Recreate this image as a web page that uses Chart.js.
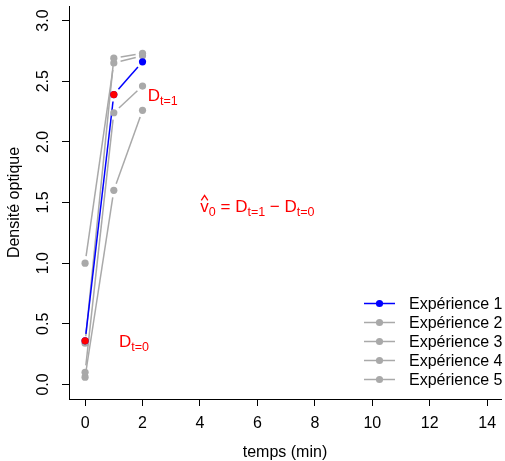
<!DOCTYPE html>
<html>
<head>
<meta charset="utf-8">
<script src="https://cdn.jsdelivr.net/npm/chart.js@4.4.1/dist/chart.umd.min.js"></script>
<style>
  html, body { margin: 0; padding: 0; background: #fff; }
</style>
</head>
<body>
<canvas id="chart" width="505" height="461"></canvas>
<script>
// densité optique mesurée à t = 0, 1, 2 min
const temps = [0, 1, 2];
const exp1 = [0.36, 2.39, 2.66];
const exp2 = [0.34, 2.69, 2.73];
const exp3 = [1.00, 2.65, 2.71];
const exp4 = [0.10, 2.24, 2.46];
const exp5 = [0.06, 1.60, 2.26];
const seriesNames = ["Expérience 1", "Expérience 2", "Expérience 3", "Expérience 4", "Expérience 5"];

// points de l'expérience 1 repérés en rouge
const markedTimes = [0, 1];
const markedSubs = ["t=0", "t=1"];

const xTicks = [0, 2, 4, 6, 8, 10, 12, 14];
const yTicks = [0, 0.5, 1, 1.5, 2, 2.5, 3];

const FONT = "'Liberation Sans', Arial, Helvetica, sans-serif";
const GAP = 7;

const allSeries = [exp1, exp2, exp3, exp4, exp5];
const colors = ["#0000FF", "#A9A9A9", "#A9A9A9", "#A9A9A9", "#A9A9A9"];

const datasets = allSeries.map((vals, i) => ({
  label: seriesNames[i],
  data: temps.map((t, j) => ({ x: t, y: vals[j] })),
  showLine: false,
  gapped: true,
  borderColor: colors[i],
  borderWidth: 1.5,
  pointRadius: 3.6,
  pointBorderWidth: 0,
  pointBackgroundColor: colors[i],
  order: i === 0 ? 1 : 2,
}));

datasets.push({
  label: "",
  mark: true,
  data: markedTimes.map((t) => ({ x: t, y: exp1[temps.indexOf(t)] })),
  showLine: false,
  pointRadius: 3.6,
  pointBorderWidth: 0,
  pointBackgroundColor: "#FF0000",
  order: 0,
});

// lignes interrompues autour des points (style type="b")
const gappedLines = {
  id: "gappedLines",
  beforeDatasetsDraw(chart) {
    const ctx = chart.ctx;
    for (let i = chart.data.datasets.length - 1; i >= 0; i--) {
      const ds = chart.data.datasets[i];
      if (!ds.gapped) continue;
      const pts = chart.getDatasetMeta(i).data;
      ctx.save();
      ctx.strokeStyle = ds.borderColor;
      ctx.lineWidth = ds.borderWidth;
      for (let k = 1; k < pts.length; k++) {
        const a = pts[k - 1], b = pts[k];
        const dx = b.x - a.x, dy = b.y - a.y;
        const len = Math.hypot(dx, dy);
        if (len <= 2 * GAP) continue;
        const ux = dx / len, uy = dy / len;
        ctx.beginPath();
        ctx.moveTo(a.x + ux * GAP, a.y + uy * GAP);
        ctx.lineTo(b.x - ux * GAP, b.y - uy * GAP);
        ctx.stroke();
      }
      ctx.restore();
    }
  },
};

// texte avec indices : [texte, estIndice]
function drawMath(ctx, parts, cx, cy, size, subSize, hatFirst) {
  const big = size + "px " + FONT;
  const small = subSize + "px " + FONT;
  let total = 0;
  const widths = parts.map(([txt, sub]) => {
    ctx.font = sub ? small : big;
    const w = ctx.measureText(txt).width;
    total += w;
    return w;
  });
  let x = cx - total / 2;
  const base = cy + size * 0.716 / 2;
  ctx.fillStyle = "#FF0000";
  ctx.textAlign = "left";
  ctx.textBaseline = "alphabetic";
  parts.forEach(([txt, sub], k) => {
    ctx.font = sub ? small : big;
    ctx.fillText(txt, x, sub ? base + 4 : base);
    if (k === 0 && hatFirst) {
      const w = widths[0];
      ctx.save();
      ctx.strokeStyle = "#FF0000";
      ctx.lineWidth = 1.3;
      ctx.beginPath();
      ctx.moveTo(x + 1, base - size * 0.52 - 3);
      ctx.lineTo(x + w / 2, base - size * 0.52 - 8);
      ctx.lineTo(x + w - 1, base - size * 0.52 - 3);
      ctx.stroke();
      ctx.restore();
    }
    x += widths[k];
  });
}

const annotations = {
  id: "annotations",
  afterDatasetsDraw(chart) {
    const ctx = chart.ctx;
    const xs = chart.scales.x, ys = chart.scales.y;
    ctx.save();
    markedTimes.forEach((t, i) => {
      const v = exp1[temps.indexOf(t)];
      drawMath(ctx, [["D", false], [markedSubs[i], true]],
        xs.getPixelForValue(t + 1.7), ys.getPixelForValue(v), 17, 12.5, false);
    });
    drawMath(ctx, [["v", false], ["0", true], [" = D", false], ["t=1", true],
      [" \u2212 D", false], ["t=0", true]],
      xs.getPixelForValue(6), ys.getPixelForValue(1.47), 17, 12.5, true);
    ctx.restore();
  },
};

// légende en bas à droite de la zone de tracé
const sideLegend = {
  id: "sideLegend",
  afterDatasetsDraw(chart) {
    const ctx = chart.ctx;
    const x0 = 364, x1 = 395, tx = 409, y0 = 303.5, dy = 19;
    ctx.save();
    chart.data.datasets.filter((d) => !d.mark).forEach((ds, i) => {
      const y = y0 + i * dy;
      ctx.strokeStyle = ds.borderColor;
      ctx.lineWidth = 1.5;
      ctx.beginPath();
      ctx.moveTo(x0, y);
      ctx.lineTo(x1, y);
      ctx.stroke();
      ctx.fillStyle = ds.pointBackgroundColor;
      ctx.beginPath();
      ctx.arc((x0 + x1) / 2, y, 3.6, 0, Math.PI * 2);
      ctx.fill();
      ctx.fillStyle = "#000";
      ctx.font = "16px " + FONT;
      ctx.textAlign = "left";
      ctx.textBaseline = "middle";
      ctx.fillText(ds.label, tx, y + 1);
    });
    ctx.restore();
  },
};

new Chart(document.getElementById("chart"), {
  type: "scatter",
  data: { datasets },
  plugins: [gappedLines, annotations, sideLegend],
  options: {
    responsive: false,
    animation: false,
    events: [],
    devicePixelRatio: 1,
    layout: { padding: { top: 6, right: 0, bottom: 0, left: 0 } },
    plugins: { legend: { display: false }, tooltip: { enabled: false } },
    scales: {
      x: {
        type: "linear",
        min: -0.56,
        max: 14.48,
        afterBuildTicks: (s) => { s.ticks = xTicks.map((v) => ({ value: v })); },
        afterFit: (s) => {
          s.height = 62;
          s.paddingLeft = 0;
          s.paddingRight = 0;
        },
        grid: { drawOnChartArea: false, tickLength: 7, tickColor: "#000", tickWidth: 1 },
        border: { display: true, color: "#000", width: 1 },
        ticks: {
          color: "#000",
          font: { family: FONT, size: 16 },
          padding: 8,
          minRotation: 0,
          maxRotation: 0,
          autoSkip: false,
        },
        title: {
          display: true,
          text: "temps (min)",
          color: "#000",
          font: { family: FONT, size: 16, lineHeight: 1 },
          padding: 0,
        },
      },
      y: {
        type: "linear",
        min: -0.12,
        max: 3.12,
        afterBuildTicks: (s) => { s.ticks = yTicks.map((v) => ({ value: v })); },
        afterFit: (s) => {
          s.width = 69;
          s.paddingTop = 0;
          s.paddingBottom = 0;
        },
        grid: { drawOnChartArea: false, tickLength: 7, tickColor: "#000", tickWidth: 1 },
        border: { display: true, color: "#000", width: 1 },
        ticks: {
          color: "#000",
          font: { family: FONT, size: 16 },
          padding: 7,
          minRotation: 90,
          maxRotation: 90,
          crossAlign: "center",
          callback: (v) => Number(v).toFixed(1),
        },
        title: {
          display: true,
          text: "Densité optique",
          color: "#000",
          font: { family: FONT, size: 16, lineHeight: 1 },
          padding: { top: 7, bottom: 0 },
        },
      },
    },
  },
});
</script>
</body>
</html>
